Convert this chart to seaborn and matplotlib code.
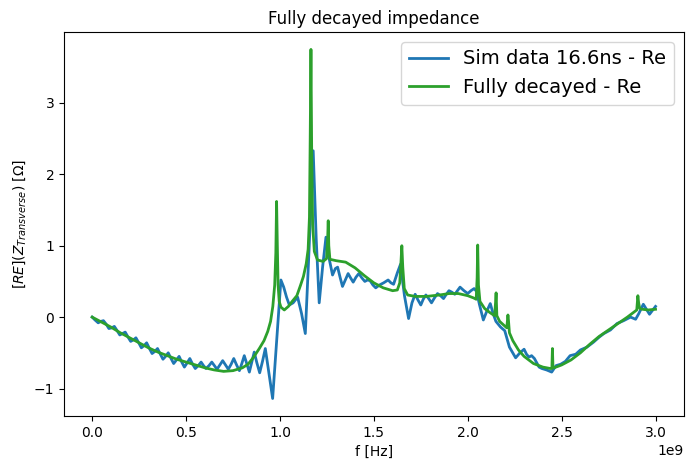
import matplotlib
matplotlib.use("Agg")
import matplotlib.pyplot as plt
import numpy as np
import pandas as pd
import seaborn as sns

# frequency in GHz (converted to Hz when plotting)
blue_f = [0.000, 0.015, 0.032, 0.046, 0.060, 0.075, 0.089, 0.104, 0.118, 0.133,
          0.147, 0.162, 0.176, 0.191, 0.205, 0.219, 0.233, 0.248, 0.262, 0.276,
          0.290, 0.305, 0.319, 0.334, 0.348, 0.363, 0.377, 0.391, 0.405, 0.420,
          0.434, 0.449, 0.463, 0.477, 0.491, 0.506, 0.520, 0.535, 0.549, 0.565,
          0.580, 0.593, 0.606, 0.622, 0.637, 0.651, 0.665, 0.680, 0.695, 0.710,
          0.725, 0.740, 0.754, 0.769, 0.784, 0.797, 0.810, 0.824, 0.837, 0.850,
          0.863, 0.877, 0.892, 0.907, 0.922, 0.942, 0.961, 0.983, 1.005, 1.020,
          1.035, 1.050, 1.070, 1.094, 1.115, 1.135, 1.155, 1.177, 1.193, 1.209,
          1.227, 1.245, 1.262, 1.280, 1.295, 1.307, 1.320, 1.333, 1.348, 1.363,
          1.376, 1.390, 1.405, 1.420, 1.436, 1.452, 1.466, 1.480, 1.495, 1.510,
          1.530, 1.552, 1.576, 1.591, 1.605, 1.625, 1.642, 1.663, 1.685, 1.703,
          1.720, 1.735, 1.750, 1.763, 1.777, 1.792, 1.807, 1.823, 1.839, 1.855,
          1.871, 1.886, 1.900, 1.915, 1.931, 1.945, 1.959, 1.980, 2.000, 2.017,
          2.034, 2.047, 2.062, 2.083, 2.101, 2.120, 2.135, 2.150, 2.175, 2.197,
          2.222, 2.255, 2.278, 2.300, 2.313, 2.326, 2.340, 2.355, 2.380, 2.395,
          2.420, 2.447, 2.470, 2.495, 2.520, 2.545, 2.575, 2.600, 2.635, 2.670,
          2.700, 2.725, 2.760, 2.795, 2.830, 2.867, 2.894, 2.911, 2.935, 2.968,
          3.000]
blue_re = [0.00, -0.04, -0.08, -0.06, -0.05, -0.10, -0.16, -0.15, -0.13, -0.19,
           -0.25, -0.23, -0.21, -0.28, -0.34, -0.32, -0.29, -0.36, -0.43, -0.40,
           -0.36, -0.44, -0.51, -0.48, -0.44, -0.52, -0.59, -0.55, -0.50, -0.58,
           -0.65, -0.60, -0.55, -0.63, -0.70, -0.64, -0.58, -0.66, -0.72, -0.68,
           -0.63, -0.68, -0.72, -0.68, -0.63, -0.68, -0.73, -0.67, -0.61, -0.67,
           -0.73, -0.66, -0.58, -0.67, -0.75, -0.65, -0.54, -0.66, -0.77, -0.63,
           -0.49, -0.64, -0.78, -0.62, -0.44, -0.80, -1.14, -0.30, 0.52, 0.42,
           0.28, 0.17, 0.20, 0.28, 0.05, -0.23, 0.95, 2.33, 1.10, 0.20,
           0.70, 1.12, 0.82, 0.59, 0.68, 0.70, 0.56, 0.43, 0.52, 0.61,
           0.55, 0.49, 0.56, 0.61, 0.55, 0.50, 0.52, 0.51, 0.45, 0.41,
           0.45, 0.48, 0.52, 0.48, 0.46, 0.62, 0.74, 0.30, -0.02, 0.20,
           0.32, 0.24, 0.17, 0.25, 0.31, 0.26, 0.20, 0.27, 0.33, 0.30,
           0.26, 0.32, 0.37, 0.35, 0.32, 0.37, 0.42, 0.37, 0.33, 0.37,
           0.40, 0.36, 0.18, -0.04, 0.08, 0.19, 0.05, -0.06, -0.14, -0.19,
           -0.42, -0.57, -0.50, -0.45, -0.52, -0.56, -0.54, -0.58, -0.70, -0.72,
           -0.74, -0.77, -0.68, -0.66, -0.62, -0.54, -0.52, -0.46, -0.42, -0.35,
           -0.28, -0.23, -0.18, -0.09, -0.05, 0.00, -0.03, 0.05, 0.18, 0.04,
           0.15]

green_f = [0.000, 0.050, 0.100, 0.150, 0.200, 0.250, 0.300, 0.350, 0.400, 0.450,
           0.500, 0.550, 0.600, 0.650, 0.700, 0.750, 0.800, 0.830, 0.860, 0.890,
           0.915, 0.935, 0.950, 0.962, 0.972, 0.978, 0.982, 0.986, 0.990, 0.996,
           1.005, 1.023, 1.045, 1.065, 1.090, 1.110, 1.125, 1.140, 1.150, 1.157,
           1.161, 1.165, 1.169, 1.174, 1.183, 1.200, 1.230, 1.248, 1.254, 1.257,
           1.260, 1.266, 1.300, 1.350, 1.400, 1.450, 1.500, 1.550, 1.600, 1.625,
           1.638, 1.645, 1.649, 1.654, 1.662, 1.680, 1.720, 1.780, 1.850, 1.900,
           1.950, 2.000, 2.030, 2.045, 2.050, 2.053, 2.057, 2.065, 2.090, 2.120,
           2.143, 2.148, 2.151, 2.155, 2.170, 2.195, 2.208, 2.214, 2.217, 2.222,
           2.240, 2.270, 2.300, 2.350, 2.400, 2.440, 2.448, 2.451, 2.454, 2.460,
           2.500, 2.550, 2.600, 2.650, 2.700, 2.750, 2.800, 2.850, 2.885, 2.900,
           2.906, 2.910, 2.916, 2.930, 2.960, 3.000]
green_re = [0.00, -0.07, -0.14, -0.22, -0.29, -0.36, -0.43, -0.49, -0.54, -0.59,
            -0.63, -0.67, -0.71, -0.74, -0.76, -0.75, -0.71, -0.66, -0.56, -0.44,
            -0.33, -0.20, -0.06, 0.15, 0.45, 0.90, 1.62, 1.00, 0.45, 0.22,
            0.14, 0.10, 0.15, 0.22, 0.30, 0.45, 0.57, 0.75, 0.95, 1.40,
            2.50, 3.75, 2.30, 1.30, 0.92, 0.80, 0.78, 0.82, 1.10, 1.35,
            1.00, 0.81, 0.79, 0.77, 0.69, 0.58, 0.48, 0.41, 0.37, 0.38,
            0.48, 0.80, 1.00, 0.70, 0.40, 0.31, 0.29, 0.29, 0.31, 0.33,
            0.33, 0.30, 0.27, 0.25, 0.55, 1.01, 0.45, 0.22, 0.12, 0.06,
            0.02, 0.20, 0.34, 0.02, -0.06, -0.12, -0.15, 0.03, -0.05, -0.22,
            -0.33, -0.46, -0.55, -0.65, -0.70, -0.72, -0.72, -0.44, -0.71, -0.71,
            -0.67, -0.60, -0.50, -0.38, -0.27, -0.18, -0.09, 0.00, 0.07, 0.10,
            0.30, 0.20, 0.12, 0.11, 0.10, 0.11]

labels = ["Sim data 16.6ns - Re", "Fully decayed - Re"]
colors = ["#1f77b4", "#2ca02c"]

fig, ax = plt.subplots(figsize=(6.92, 4.7), dpi=100)
fig.subplots_adjust(left=0.0925, right=0.988, top=0.932, bottom=0.115)

sns.lineplot(x=np.array(blue_f) * 1e9, y=blue_re, ax=ax, color=colors[0],
             linewidth=2, label=labels[0], sort=False)
sns.lineplot(x=np.array(green_f) * 1e9, y=green_re, ax=ax, color=colors[1],
             linewidth=2, label=labels[1], sort=False)

ax.set_title("Fully decayed impedance")
ax.set_xlabel("f [Hz]")
ax.set_ylabel(r"$[RE](Z_{Transverse})$ [$\Omega$]")
ax.legend(loc="upper right", fontsize=14)

fig.savefig("out.png", dpi=100)
